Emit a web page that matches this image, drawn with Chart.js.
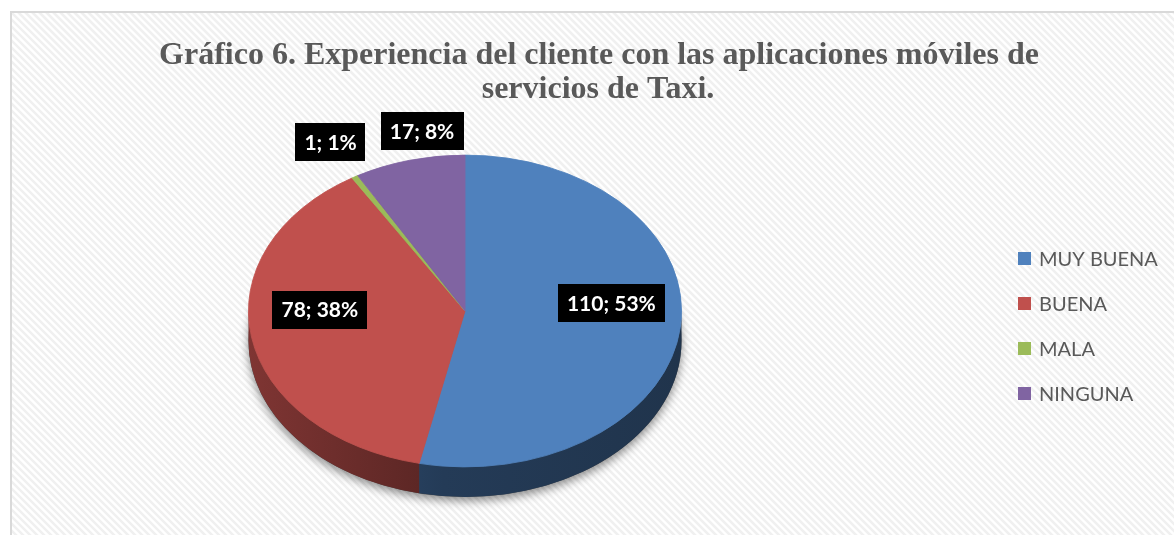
<!DOCTYPE html>
<html>
<head>
<meta charset="utf-8">
<script src="https://cdn.jsdelivr.net/npm/chart.js@4.4.1/dist/chart.umd.min.js"></script>
<style>
  html, body { margin: 0; padding: 0; background: #fff; }
  canvas { display: block; }
</style>
</head>
<body>
<canvas id="chart" width="1174" height="535"></canvas>
<script>
// Survey answers and counts
const categories = ['MUY BUENA', 'BUENA', 'MALA', 'NINGUNA'];
const counts = [110, 78, 1, 17];
const percentLabels = ['53%', '38%', '1%', '8%'];
const sliceColors = ['#4F81BD', '#C0504D', '#9BBB59', '#8064A2'];
const titleLines = [
  'Gráfico 6. Experiencia del cliente con las aplicaciones móviles de',
  'servicios de Taxi.'
];

// 3D look: vertical squash of the disc and thickness of the side wall
const TILT = 0.72;
const DEPTH = 30;

function shade(hex, f) {
  const n = parseInt(hex.slice(1), 16);
  const r = Math.round(((n >> 16) & 255) * f);
  const g = Math.round(((n >> 8) & 255) * f);
  const b = Math.round((n & 255) * f);
  return `rgb(${r},${g},${b})`;
}

// Striped panel, frame and title
const backdrop = {
  id: 'backdrop',
  beforeDraw(chart) {
    const ctx = chart.ctx, W = chart.width, H = chart.height;
    const x0 = 11, y0 = 12;
    ctx.save();
    ctx.fillStyle = '#ffffff';
    ctx.fillRect(0, 0, W, H);
    ctx.beginPath();
    ctx.rect(x0, y0, W, H);
    ctx.clip();
    ctx.strokeStyle = '#f0f0f0';
    ctx.lineWidth = 2.5;
    for (let k = -H; k < W; k += 7) {
      ctx.beginPath();
      ctx.moveTo(k, y0);
      ctx.lineTo(k + H, y0 + H);
      ctx.stroke();
    }
    ctx.restore();

    ctx.save();
    ctx.strokeStyle = '#d9d9d9';
    ctx.lineWidth = 2;
    ctx.strokeRect(x0, y0, W + 10, H + 10);
    ctx.restore();

    ctx.save();
    ctx.fillStyle = '#595959';
    ctx.font = 'bold 32px "Liberation Serif", "Times New Roman", serif';
    ctx.textAlign = 'center';
    ctx.textBaseline = 'alphabetic';
    ctx.fillText(titleLines[0], 599, 64);
    ctx.fillText(titleLines[1], 598, 98);
    ctx.restore();
  },
  afterDraw(chart) {
    // legend on the right
    const ctx = chart.ctx;
    ctx.save();
    ctx.font = '20px Lato, "Open Sans", sans-serif';
    ctx.textBaseline = 'alphabetic';
    ctx.textAlign = 'left';
    categories.forEach((name, i) => {
      const base = 266 + i * 45;
      ctx.fillStyle = sliceColors[i];
      ctx.fillRect(1018, base - 14, 13, 13);
      ctx.fillStyle = '#595959';
      ctx.fillText(name, 1039, base);
    });
    ctx.restore();
  }
};

// Side wall, drop shadow, squashed top face and value boxes
const pie3d = {
  id: 'pie3d',
  beforeDatasetsDraw(chart) {
    const arcs = chart.getDatasetMeta(0).data;
    if (!arcs.length) return;
    const ctx = chart.ctx;
    const { x: cx, y: cy, outerRadius: R } = arcs[0];
    const rx = R, ry = R * TILT;

    ctx.save();
    ctx.shadowColor = 'rgba(0,0,0,0.45)';
    ctx.shadowBlur = 10;
    ctx.shadowOffsetY = 4;
    ctx.fillStyle = '#444';
    ctx.beginPath();
    ctx.ellipse(cx, cy + DEPTH, rx, ry, 0, 0, Math.PI * 2);
    ctx.fill();
    ctx.restore();

    arcs.forEach((a, i) => {
      const s = Math.max(a.startAngle, 0);
      const e = Math.min(a.endAngle, Math.PI);
      if (e <= s) return;
      const c = sliceColors[i];
      const g = ctx.createLinearGradient(cx - rx, 0, cx + rx, 0);
      g.addColorStop(0, shade(c, 0.66));
      g.addColorStop(0.45, shade(c, 0.46));
      g.addColorStop(1, shade(c, 0.40));
      ctx.beginPath();
      ctx.ellipse(cx, cy, rx, ry, 0, s, e);
      ctx.ellipse(cx, cy + DEPTH, rx, ry, 0, e, s, true);
      ctx.closePath();
      ctx.fillStyle = g;
      ctx.fill();
    });

    ctx.save();
    ctx.translate(cx, cy);
    ctx.scale(1, TILT);
    ctx.translate(-cx, -cy);
  },
  afterDatasetsDraw(chart) {
    const ctx = chart.ctx;
    ctx.restore();
    const arcs = chart.getDatasetMeta(0).data;
    if (!arcs.length) return;
    const { x: cx, y: cy, outerRadius: R } = arcs[0];
    const placed = [];
    ctx.save();
    ctx.font = 'bold 21px Lato, "Open Sans", sans-serif';
    ctx.textAlign = 'center';
    ctx.textBaseline = 'middle';
    arcs.forEach((a, i) => {
      const share = (a.endAngle - a.startAngle) / (Math.PI * 2);
      const mid = (a.startAngle + a.endAngle) / 2;
      const outside = share < 0.1;
      const k = outside ? 1.22 : 0.68;
      let x = cx + Math.cos(mid) * R * k;
      let y = cy + Math.sin(mid) * R * k * TILT + (outside ? -5 : -19);
      const text = `${counts[i]}; ${percentLabels[i]}`;
      const w = ctx.measureText(text).width + 18;
      const h = 38;
      placed.forEach(b => {
        if (Math.abs(b.y - y) < h && x - w / 2 < b.x + b.w / 2 + 14 && x + w / 2 > b.x - b.w / 2 - 14) {
          x = b.x + b.w / 2 + 15 + w / 2;
          y = y + 9;
        }
      });
      placed.push({ x, y, w });
      ctx.fillStyle = '#000';
      ctx.fillRect(Math.round(x - w / 2), Math.round(y - h / 2), Math.round(w), h);
      ctx.fillStyle = '#fff';
      ctx.fillText(text, x, y + 1);
    });
    ctx.restore();
  }
};

new Chart(document.getElementById('chart'), {
  type: 'pie',
  data: {
    labels: categories,
    datasets: [{
      data: counts,
      backgroundColor: sliceColors,
      borderColor: sliceColors,
      borderWidth: 1
    }]
  },
  options: {
    responsive: false,
    animation: false,
    layout: { padding: { left: 248, right: 492, top: 87, bottom: 0 } },
    plugins: {
      legend: { display: false },
      title: { display: false },
      tooltip: { enabled: false }
    }
  },
  plugins: [backdrop, pie3d]
});
</script>
</body>
</html>
